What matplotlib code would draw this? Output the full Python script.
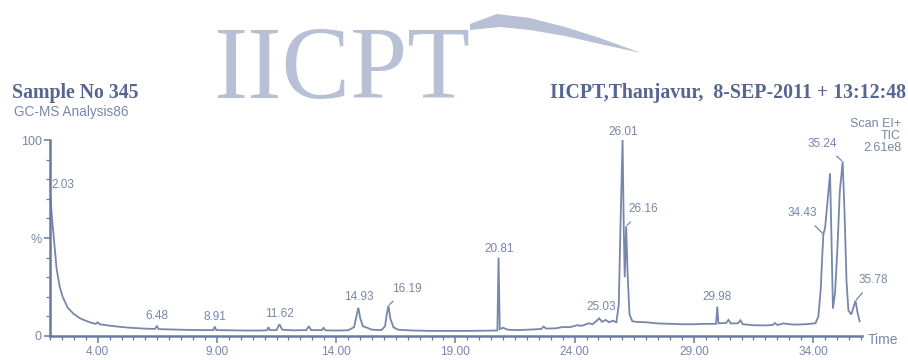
#!/usr/bin/env python3

import numpy as np
import matplotlib
matplotlib.use("Agg")
import matplotlib.pyplot as plt
from matplotlib.patches import Polygon
from matplotlib.ticker import MultipleLocator, FixedLocator

# TIC trace: retention time (min) and relative abundance (%)
trace_time = [
    2.03, 2.07, 2.16, 2.28, 2.41, 2.53, 2.74, 2.99, 3.29, 3.71, 3.92, 4.00, 4.08,
    4.54, 5.00, 5.38, 5.90, 6.40, 6.48, 6.56, 7.20, 7.80, 8.40, 8.85, 8.91, 8.97,
    9.50, 10.20, 10.80, 11.10, 11.16, 11.22, 11.50, 11.62, 11.74, 12.20, 12.75,
    12.85, 12.95, 13.40, 13.47, 13.55, 14.00, 14.50, 14.75, 14.85, 14.93, 15.01,
    15.12, 15.30, 15.50, 15.90, 16.05, 16.12, 16.19, 16.27, 16.40, 16.60, 17.20,
    18.00, 18.80, 19.50, 20.20, 20.76, 20.81, 20.86, 21.00, 21.20, 21.60, 22.20,
    22.60, 22.70, 22.80, 23.20, 23.50, 23.80, 24.10, 24.30, 24.60, 24.75, 24.90,
    25.03, 25.15, 25.30, 25.45, 25.60, 25.75, 25.85, 25.93, 26.01, 26.06, 26.10,
    26.16, 26.22, 26.30, 26.42, 26.60, 27.00, 27.50, 28.00, 28.50, 29.00, 29.50,
    29.93, 29.98, 30.03, 30.35, 30.45, 30.55, 30.85, 30.95, 31.05, 31.50, 32.00,
    32.30, 32.40, 32.50, 32.75, 33.20, 33.70, 34.10, 34.22, 34.32, 34.38, 34.43,
    34.50, 34.60, 34.71, 34.77, 34.83, 34.92, 35.02, 35.12, 35.24, 35.32, 35.40,
    35.48, 35.60, 35.70, 35.78, 35.86, 35.95,
]
trace_abund = [
    70, 62, 50, 34, 25, 20, 14.5, 11.3, 8.8, 6.8, 6.2, 7.0, 6.0,
    5.2, 4.6, 4.2, 3.8, 3.6, 5.0, 3.5, 3.3, 3.1, 3.0, 3.0, 4.8, 3.0,
    2.9, 2.8, 2.8, 2.9, 4.5, 3.0, 3.0, 6.0, 3.2, 2.9, 3.0,
    5.0, 3.0, 3.0, 4.2, 2.9, 2.8, 2.9, 4.5, 10, 14.4, 9,
    5, 4.2, 3.2, 3.0, 5, 11, 15.5, 9, 4.5, 3.2, 2.8,
    2.6, 2.6, 2.6, 2.7, 2.8, 40, 3.5, 4.2, 3.2, 3.0, 3.3,
    3.6, 4.8, 3.8, 3.9, 4.6, 4.5, 5.5, 5.2, 6.5, 6.0, 7.5,
    9.0, 7.2, 8.2, 7.0, 7.8, 7.0, 16, 60, 100, 55, 30,
    56, 32, 11, 7.5, 7.2, 7.0, 6.4, 6.2, 6.0, 6.0, 6.2,
    6.2, 15, 6.5, 6.6, 8.2, 6.4, 6.5, 8.0, 6.0, 5.5, 5.4,
    5.6, 6.6, 5.6, 6.4, 5.8, 6.0, 6.5, 10, 24, 40, 52,
    55, 68, 83, 50, 14, 22, 45, 74, 89, 62, 28,
    13, 11, 15, 18, 12, 7.5,
]

# labelled peaks
peak_labels = ["2.03", "6.48", "8.91", "11.62", "14.93", "16.19", "20.81",
               "25.03", "26.01", "26.16", "29.98", "34.43", "35.24", "35.78"]
peak_times = [2.03, 6.48, 8.91, 11.62, 14.93, 16.19, 20.81,
              25.03, 26.01, 26.16, 29.98, 34.43, 35.24, 35.78]

x_tick_values = [4, 9, 14, 19, 24, 29, 34]
x_tick_labels = ["4.00", "9.00", "14.00", "19.00", "24.00", "29.00", "34.00"]
y_tick_values = [0, 50, 100]
y_tick_labels = ["0", "%", "100"]

W, H = 908, 360
INK = "#7886ab"
AXIS = "#6a79a0"
TITLE = "#56668f"
SANS = "Liberation Sans"
SERIF = "Liberation Serif"

# label layout: offset in pixels from the peak point, and whether a leader is drawn
label_layout = {
    "2.03": (12, 14, True), "6.48": (0, 10, False), "8.91": (0, 10, False),
    "11.62": (0, 10, False), "14.93": (0, 11, False), "16.19": (18, 17, True),
    "20.81": (1, 9, False), "25.03": (2, 11, False), "26.01": (1, 8, False),
    "26.16": (17, 17, True), "29.98": (0, 10, False), "34.43": (-21, 21, True),
    "35.24": (-20, 18, True), "35.78": (18, 21, True),
}

fig = plt.figure(figsize=(W / 100, H / 100), dpi=100)
fig.patch.set_facecolor("white")

# watermark
fig.text(342 / W, 1 - 98 / H, "IICPT", family=SERIF, fontsize=74,
         color="#b7c0d4", ha="center", va="baseline")
swoosh = [(470, 24), (497, 14), (530, 18), (565, 27), (600, 38), (641, 53),
          (600, 44), (565, 36), (530, 30), (500, 27), (470, 30)]
fig.patches.append(Polygon([(x / W, 1 - y / H) for x, y in swoosh], closed=True,
                           transform=fig.transFigure, facecolor="#b7c0d4",
                           edgecolor="none"))

# header texts
fig.text(12 / W, 1 - 93 / H, "Sample No 345", family=SERIF, weight="bold",
         fontsize=14.3, color=TITLE, ha="left", va="center")
fig.text(14 / W, 1 - 112 / H, "GC-MS Analysis86", family=SANS, fontsize=9.8,
         color=INK, ha="left", va="center")
fig.text(906 / W, 1 - 93 / H, "IICPT,Thanjavur,  8-SEP-2011 + 13:12:48",
         family=SERIF, weight="bold", fontsize=14.3, color=TITLE,
         ha="right", va="center")
for txt, yy in [("Scan EI+", 124), ("TIC", 136), ("2.61e8", 148)]:
    fig.text(901 / W, 1 - yy / H, txt, family=SANS, fontsize=9, color=INK,
             ha="right", va="center")
fig.text(868 / W, 1 - 340 / H, "Time", family=SANS, fontsize=10, color=INK,
         ha="left", va="center")

# chromatogram
ax = fig.add_axes([50 / W, 1 - 336 / H, (862 - 50) / W, (336 - 140) / H])
ax.plot(trace_time, trace_abund, color=INK, lw=1.3, solid_joinstyle="miter",
        clip_on=False)
ax.set_xlim(2.0, 36.05)
ax.set_ylim(0, 100)
for s in ["top", "right"]:
    ax.spines[s].set_visible(False)
for s in ["left", "bottom"]:
    ax.spines[s].set_color(AXIS)
    ax.spines[s].set_linewidth(1.8)
ax.set_facecolor("none")

ax.xaxis.set_major_locator(FixedLocator(x_tick_values))
ax.set_xticklabels(x_tick_labels)
ax.xaxis.set_minor_locator(MultipleLocator(0.5))
ax.yaxis.set_major_locator(FixedLocator(y_tick_values))
ax.set_yticklabels(y_tick_labels)
ax.yaxis.set_minor_locator(MultipleLocator(10))
ax.tick_params(axis="x", which="major", length=5, width=1.1, color=AXIS,
               labelsize=8.6, labelcolor=INK, pad=2)
ax.tick_params(axis="x", which="minor", length=3, width=0.9, color=AXIS)
ax.tick_params(axis="y", which="major", length=4, width=1.1, color=AXIS,
               labelsize=9, labelcolor=INK, pad=2)
ax.tick_params(axis="y", which="minor", length=3, width=0.9, color=AXIS)
for lab in ax.get_xticklabels() + ax.get_yticklabels():
    lab.set_family(SANS)

for lab, t in zip(peak_labels, peak_times):
    dx, dy, leader = label_layout[lab]
    yv = float(np.interp(t, trace_time, trace_abund))
    ax.annotate(lab, xy=(t, yv), xytext=(dx, dy), textcoords="offset pixels",
                ha="center", va="center", fontsize=8.5, family=SANS, color=INK,
                annotation_clip=False,
                arrowprops=dict(arrowstyle="-", color=INK, lw=0.9,
                                shrinkA=4, shrinkB=1) if leader else None)

plt.savefig("out.png", dpi=100)
